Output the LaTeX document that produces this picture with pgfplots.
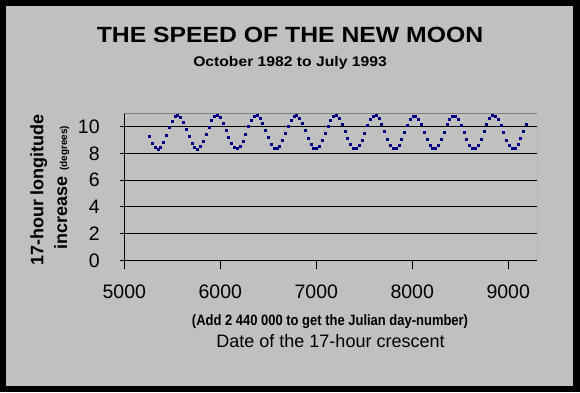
\documentclass[border=0pt]{standalone}
\usepackage{pgfplots}
\pgfplotsset{compat=1.18}
\usepackage{pgfplotstable}
\usepackage{graphicx}
\usepackage{fontspec}
\setmainfont{Liberation Sans}
\definecolor{panel}{HTML}{C0C0C0}
\definecolor{frameg}{HTML}{808080}
\definecolor{dotnavy}{HTML}{000080}
\pgfplotstableread{
jd v
5260 9.28
5290 8.78
5319 8.45
5349 8.35
5378 8.50
5408 8.87
5437 9.38
5467 9.94
5496 10.43
5526 10.75
5555 10.85
5585 10.69
5614 10.32
5644 9.80
5673 9.25
5703 8.76
5732 8.44
5762 8.35
5792 8.51
5821 8.89
5851 9.41
5880 9.97
5910 10.45
5939 10.77
5969 10.85
5998 10.68
6028 10.29
6057 9.77
6087 9.21
6116 8.74
6146 8.43
6175 8.36
6205 8.53
6234 8.92
6264 9.45
6294 10.00
6323 10.48
6353 10.78
6382 10.84
6412 10.66
6441 10.27
6471 9.74
6500 9.18
6530 8.71
6559 8.42
6589 8.36
6618 8.55
6648 8.95
6677 9.48
6707 10.03
6737 10.50
6766 10.79
6796 10.84
6825 10.64
6855 10.24
6884 9.71
6914 9.15
6943 8.69
6973 8.41
7002 8.36
7032 8.57
7061 8.98
7091 9.51
7120 10.06
7150 10.52
7179 10.80
7209 10.83
7239 10.62
7268 10.21
7298 9.67
7327 9.12
7357 8.67
7386 8.40
7416 8.37
7445 8.58
7475 9.00
7504 9.54
7534 10.09
7563 10.54
7593 10.81
7622 10.83
7652 10.61
7681 10.18
7711 9.64
7741 9.09
7770 8.65
7800 8.39
7829 8.37
7859 8.60
7888 9.03
7918 9.57
7947 10.12
7977 10.56
8006 10.81
8036 10.82
8065 10.59
8095 10.15
8124 9.61
8154 9.06
8183 8.63
8213 8.38
8243 8.38
8272 8.62
8302 9.06
8331 9.61
8361 10.15
8390 10.58
8420 10.82
8449 10.82
8479 10.57
8508 10.12
8538 9.58
8567 9.04
8597 8.61
8626 8.38
8656 8.39
8685 8.64
8715 9.09
8745 9.64
8774 10.18
8804 10.60
8833 10.83
8863 10.81
8892 10.55
8922 10.09
8951 9.55
8981 9.01
9010 8.59
9040 8.37
9069 8.40
9099 8.67
9128 9.12
9158 9.67
9187 10.21
}\moondata
\begin{document}
\begin{tikzpicture}[x=1pt,y=1pt]
\fill[black] (0,0) rectangle (580,392);
\fill[panel] (6,6.3) rectangle (572.7,386);
\begin{axis}[
  at={(124.3pt,131.7pt)}, anchor=south west,
  width=412.7pt, height=147pt, scale only axis,
  xmin=5000, xmax=9300, ymin=0, ymax=11,
  axis x line*=bottom, axis y line*=left,
  xtick={5000,6000,7000,8000,9000},
  ytick={0,2,4,6,8,10},
  ymajorgrids,
  major grid style={black, line width=1pt},
  axis line style={black, line width=1pt},
  xtick align=outside, ytick align=center,
  major tick length=9pt,
  tick style={black, line width=1pt},
  /pgf/number format/1000 sep={},
  /pgf/number format/assume math mode=true,
  scaled x ticks=false,
  xticklabel style={font=\fontsize{19.5}{22}\selectfont, anchor=north, inner sep=0pt, yshift=-15.5pt},
  yticklabel style={font=\fontsize{19.5}{22}\selectfont, anchor=east, inner sep=0pt, xshift=-20pt},
]
\addplot[only marks, mark=square*, mark size=1pt, color=dotnavy] table[x=jd, y=v] {\moondata};
\draw[frameg, line width=1pt] (rel axis cs:0,1) -- (rel axis cs:1,1) -- (rel axis cs:1,0);
\end{axis}
\node[anchor=base, inner sep=0pt] at (290,350) {\scalebox{1.125}[1]{\fontsize{22}{26}\selectfont\bfseries THE SPEED OF THE NEW MOON}};
\node[anchor=base, inner sep=0pt] at (290,325.3) {\scalebox{1.12}[1]{\fontsize{14}{17}\selectfont\bfseries October 1982 to July 1993}};
\node[anchor=base, inner sep=0pt] at (330,67) {\scalebox{0.865}[1]{\fontsize{15}{18}\selectfont\bfseries (Add 2 440 000 to get the Julian day-number)}};
\node[anchor=base, inner sep=0pt] at (330.5,44.7) {\fontsize{18}{21}\selectfont Date of the 17-hour crescent};
\node[anchor=base, inner sep=0pt, rotate=90] at (43.3,202) {\fontsize{18}{21}\selectfont\bfseries 17-hour longitude};
\node[anchor=base, inner sep=0pt, rotate=90] at (67,204.5) {\fontsize{18}{21}\selectfont\bfseries increase {\fontsize{10}{12}\selectfont (degrees)}};
\end{tikzpicture}
\end{document}
